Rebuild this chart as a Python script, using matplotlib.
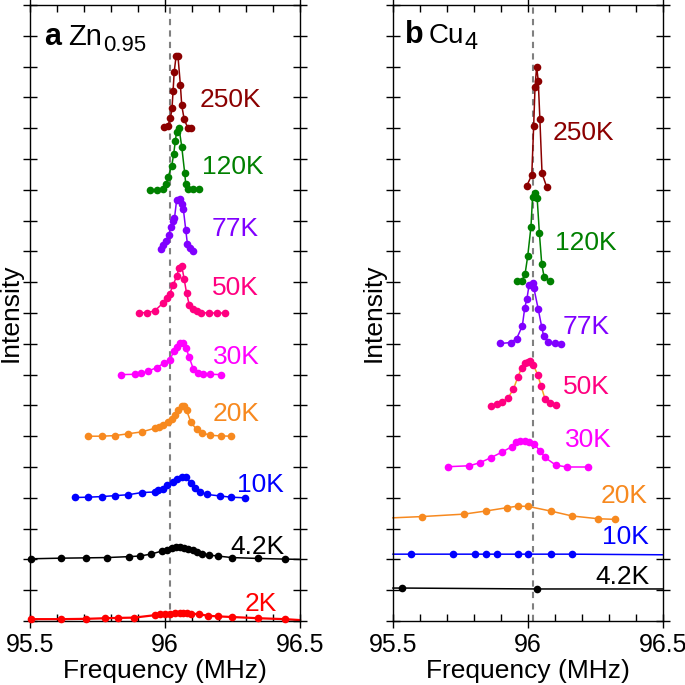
import matplotlib
matplotlib.use("Agg")
import matplotlib.pyplot as plt
import numpy as np

plt.rcParams['font.family'] = ['Liberation Sans', 'DejaVu Sans']

# ---------------- Panel a: Zn0.95 ----------------
a_250_f = [95.997, 96.010, 96.020, 96.026, 96.030, 96.034, 96.041, 96.048, 96.057, 96.062, 96.071, 96.084, 96.096]
a_250_y = [16.05, 16.07, 16.32, 16.65, 17.22, 17.82, 18.34, 18.34, 17.40, 16.74, 16.29, 16.02, 16.00]

a_120_f = [95.943, 95.971, 95.991, 96.005, 96.012, 96.025, 96.032, 96.038, 96.043, 96.052, 96.062, 96.073, 96.077, 96.086, 96.105, 96.125]
a_120_y = [14.0, 14.0, 14.03, 14.18, 14.43, 14.78, 15.15, 15.57, 15.89, 16.0, 15.4, 14.54, 14.18, 14.04, 14.02, 14.01]

a_77_f = [95.985, 95.994, 96.004, 96.014, 96.021, 96.030, 96.035, 96.043, 96.056, 96.064, 96.068, 96.077, 96.083, 96.093, 96.103]
a_77_y = [12.08, 12.21, 12.35, 12.53, 12.78, 12.99, 13.07, 13.66, 13.70, 13.53, 13.37, 12.69, 12.24, 12.10, 12.02]

a_50_f = [95.904, 95.933, 95.962, 95.991, 96.009, 96.017, 96.031, 96.043, 96.052, 96.062, 96.071, 96.080, 96.090, 96.103, 96.117, 96.133, 96.162, 96.193, 96.222]
a_50_y = [10.01, 10.01, 10.07, 10.31, 10.50, 10.62, 10.92, 11.20, 11.45, 11.53, 11.10, 10.64, 10.26, 10.12, 10.05, 10.01, 10.0, 10.0, 10.0]

a_30_f = [95.838, 95.888, 95.912, 95.938, 95.969, 95.996, 96.019, 96.033, 96.043, 96.056, 96.068, 96.078, 96.089, 96.105, 96.123, 96.142, 96.167, 96.206]
a_30_y = [8.0, 8.01, 8.04, 8.11, 8.23, 8.37, 8.49, 8.77, 8.89, 9.02, 9.02, 8.86, 8.58, 8.18, 8.06, 8.03, 8.01, 8.0]

a_20_f = [95.715, 95.766, 95.815, 95.864, 95.914, 95.963, 95.979, 95.994, 96.012, 96.025, 96.037, 96.047, 96.062, 96.071, 96.080, 96.096, 96.117, 96.138, 96.167, 96.207, 96.244]
a_20_y = [6.0, 6.0, 6.02, 6.08, 6.14, 6.26, 6.30, 6.35, 6.45, 6.56, 6.70, 6.86, 6.99, 6.97, 6.84, 6.45, 6.22, 6.11, 6.03, 6.01, 6.0]

a_10_f = [95.667, 95.716, 95.766, 95.815, 95.864, 95.914, 95.963, 95.975, 95.991, 96.006, 96.031, 96.043, 96.062, 96.078, 96.095, 96.111, 96.130, 96.154, 96.204, 96.244, 96.296]
a_10_y = [4.01, 4.02, 4.04, 4.07, 4.10, 4.17, 4.19, 4.24, 4.30, 4.40, 4.51, 4.62, 4.67, 4.67, 4.48, 4.31, 4.19, 4.11, 4.06, 4.02, 4.0]

a_4_f = [95.503, 95.615, 95.707, 95.786, 95.867, 95.907, 95.947, 95.988, 96.006, 96.025, 96.041, 96.056, 96.070, 96.086, 96.103, 96.120, 96.136, 96.164, 96.195, 96.247, 96.346, 96.444, 96.5]
a_4_y = [2.02, 2.04, 2.05, 2.06, 2.09, 2.11, 2.17, 2.27, 2.31, 2.38, 2.40, 2.40, 2.38, 2.34, 2.29, 2.24, 2.19, 2.14, 2.11, 2.06, 2.03, 2.01, 2.0]
a_4_marked = list(range(22))

a_2_f = [95.503, 95.615, 95.707, 95.778, 95.827, 95.886, 95.963, 95.981, 96.0, 96.019, 96.037, 96.056, 96.068, 96.080, 96.095, 96.126, 96.160, 96.197, 96.247, 96.346, 96.444, 96.5]
a_2_y = [0.06, 0.06, 0.07, 0.09, 0.10, 0.11, 0.19, 0.22, 0.24, 0.24, 0.25, 0.26, 0.27, 0.26, 0.24, 0.22, 0.17, 0.15, 0.13, 0.09, 0.06, 0.03]
a_2_marked = list(range(21))

# ---------------- Panel b: Cu4 ----------------
b_250_f = [95.995, 96.014, 96.021, 96.026, 96.032, 96.038, 96.044, 96.052, 96.069]
b_250_y = [14.12, 14.48, 16.08, 17.33, 18.0, 17.53, 16.29, 14.53, 14.10]

b_120_f = [95.959, 95.977, 95.989, 95.999, 96.011, 96.017, 96.026, 96.034, 96.042, 96.051, 96.060, 96.081]
b_120_y = [11.04, 11.05, 11.26, 11.85, 12.80, 13.78, 13.89, 13.72, 12.61, 11.58, 11.16, 11.04]

b_77_f = [95.896, 95.936, 95.958, 95.979, 95.988, 95.996, 96.004, 96.017, 96.022, 96.038, 96.051, 96.058, 96.075, 96.100, 96.121]
b_77_y = [9.01, 9.04, 9.17, 9.58, 10.17, 10.46, 10.91, 10.98, 10.80, 10.12, 9.54, 9.25, 9.07, 9.01, 9.0]

b_50_f = [95.862, 95.884, 95.903, 95.925, 95.946, 95.963, 95.977, 95.989, 95.999, 96.008, 96.020, 96.036, 96.048, 96.063, 96.080, 96.103]
b_50_y = [6.99, 7.04, 7.11, 7.23, 7.53, 7.93, 8.23, 8.37, 8.42, 8.44, 8.31, 7.99, 7.64, 7.21, 7.09, 7.01]

b_30_f = [95.703, 95.783, 95.822, 95.862, 95.903, 95.940, 95.954, 95.970, 95.989, 96.005, 96.022, 96.044, 96.063, 96.103, 96.144, 96.224]
b_30_y = [5.01, 5.04, 5.14, 5.30, 5.48, 5.66, 5.80, 5.84, 5.84, 5.80, 5.75, 5.53, 5.31, 5.06, 5.0, 5.0]

b_20_f = [95.5, 95.606, 95.763, 95.843, 95.923, 95.962, 96.001, 96.084, 96.163, 96.260, 96.323]
b_20_y = [3.35, 3.39, 3.47, 3.57, 3.68, 3.73, 3.72, 3.57, 3.41, 3.32, 3.30]
b_20_marked = list(range(1, 11))

b_10_f = [95.5, 95.566, 95.723, 95.804, 95.843, 95.884, 95.962, 96.001, 96.084, 96.162, 96.5]
b_10_y = [2.17, 2.17, 2.17, 2.17, 2.17, 2.17, 2.17, 2.17, 2.17, 2.17, 2.15]
b_10_marked = list(range(1, 10))

b_4_f = [95.5, 95.534, 96.034, 96.5]
b_4_y = [1.07, 1.07, 1.04, 1.04]
b_4_marked = [1, 2]

x_ticks = [95.5, 96.0, 96.5]
x_ticklabels = ["95.5", "96", "96.5"]
ref_line = 96.02

C250 = '#8B0000'
C120 = '#008000'
C77 = '#8000FF'
C50 = '#FF0080'
C30 = '#FF00FF'
C20 = '#F7891F'
C10 = '#0000FF'
C4 = '#000000'
C2 = '#FF0000'

W, H = 685, 685
fig = plt.figure(figsize=(W / 100, H / 100), dpi=100)

def px_axes(l, r, t, b):
    return fig.add_axes([l / W, 1 - b / H, (r - l) / W, (b - t) / H])

axa = px_axes(30, 300, 5, 621)
axb = px_axes(393, 663, 5, 621)

def style(ax):
    ax.set_xlim(95.5, 96.5)
    ax.set_ylim(0, 20)
    ax.set_xticks(x_ticks)
    ax.set_xticklabels(x_ticklabels, fontsize=18)
    ax.set_xticks(np.arange(95.5, 96.51, 0.1), minor=True)
    ax.set_yticks(np.arange(0, 21, 1))
    ax.set_yticklabels([])
    ax.tick_params(axis='y', which='major', direction='inout', length=10, width=1,
                   left=True, right=True)
    ax.tick_params(axis='x', which='major', direction='inout', length=10, width=1,
                   top=True, bottom=True, labelsize=18, pad=4)
    ax.tick_params(axis='x', which='minor', direction='in', length=5, width=1,
                   top=True, bottom=True)
    for s in ax.spines.values():
        s.set_linewidth(1.0)
    ax.set_xlabel('Frequency (MHz)', fontsize=19, labelpad=1)
    ax.set_ylabel('Intensity', fontsize=19)
    ax.yaxis.set_label_coords(-0.026, 0.5)
    ax.axvline(ref_line, color='#808080', lw=1.5, ls=(0, (3, 2.5)), zorder=1)

style(axa)
style(axb)

def series(ax, f, y, c, lc=None, mark=None, lw=1.1, ms=5.5):
    ax.plot(f, y, '-', color=lc or c, lw=lw, zorder=2, clip_on=False)
    fm = f if mark is None else [f[i] for i in mark]
    ym = y if mark is None else [y[i] for i in mark]
    ax.plot(fm, ym, 'o', color=c, ms=ms, mew=0, zorder=3, clip_on=False)

series(axa, a_250_f, a_250_y, C250)
series(axa, a_120_f, a_120_y, C120)
series(axa, a_77_f, a_77_y, C77)
series(axa, a_50_f, a_50_y, C50)
series(axa, a_30_f, a_30_y, C30)
series(axa, a_20_f, a_20_y, C20)
series(axa, a_10_f, a_10_y, C10)
series(axa, a_4_f, a_4_y, C4, mark=a_4_marked)
series(axa, a_2_f, a_2_y, C2, mark=a_2_marked, lw=1.6)

series(axb, b_250_f, b_250_y, C250)
series(axb, b_120_f, b_120_y, C120)
series(axb, b_77_f, b_77_y, C77)
series(axb, b_50_f, b_50_y, C50, lc='#F5A623')
series(axb, b_30_f, b_30_y, C30)
series(axb, b_20_f, b_20_y, C20, mark=b_20_marked)
series(axb, b_10_f, b_10_y, C10, mark=b_10_marked)
series(axb, b_4_f, b_4_y, C4, mark=b_4_marked)

fs = 19
a_labels = [("250K", 96.13, 16.9, C250), ("120K", 96.137, 14.74, C120),
            ("77K", 96.174, 12.73, C77), ("50K", 96.174, 10.81, C50),
            ("30K", 96.178, 8.57, C30), ("20K", 96.178, 6.72, C20),
            ("10K", 96.267, 4.42, C10), ("4.2K", 96.241, 2.40, C4),
            ("2K", 96.296, 0.55, C2)]
for t, x, y, c in a_labels:
    axa.text(x, y, t, color=c, fontsize=fs, ha='left', va='center')

b_labels = [("250K", 96.093, 15.84, C250), ("120K", 96.1, 12.27, C120),
            ("77K", 96.13, 9.55, C77), ("50K", 96.13, 7.6, C50),
            ("30K", 96.137, 5.88, C30), ("20K", 96.27, 4.06, C20),
            ("10K", 96.274, 2.73, C10), ("4.2K", 96.248, 1.43, C4)]
for t, x, y, c in b_labels:
    axb.text(x, y, t, color=c, fontsize=fs, ha='left', va='center')

# panel titles
axa.text(0.054, 0.935, 'a', transform=axa.transAxes, fontsize=22, fontweight='bold', va='baseline')
axa.text(0.142, 0.935, 'Zn', transform=axa.transAxes, fontsize=21, va='baseline')
axa.text(0.272, 0.925, '0.95', transform=axa.transAxes, fontsize=16, va='baseline')

axb.text(0.046, 0.938, 'b', transform=axb.transAxes, fontsize=22, fontweight='bold', va='baseline')
axb.text(0.131, 0.938, 'Cu', transform=axb.transAxes, fontsize=20, va='baseline')
axb.text(0.263, 0.929, '4', transform=axb.transAxes, fontsize=17, va='baseline')

fig.savefig('out.png', dpi=100)
